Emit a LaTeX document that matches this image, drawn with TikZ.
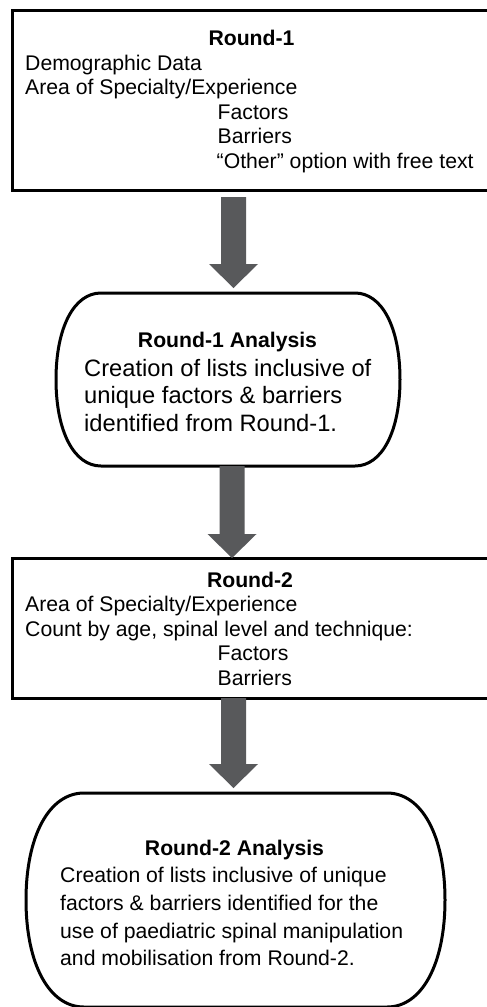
\documentclass[tikz,border=0pt]{standalone}
\usepackage{fontspec}
\setmainfont{Liberation Sans}
\usetikzlibrary{calc}
\definecolor{arrowgray}{RGB}{88,89,91}
\tikzset{
  boxnode/.style={draw=black, line width=3pt, rectangle, inner sep=0pt, anchor=north west},
  termline/.style={draw=black, line width=3pt, line join=round},
  arrowfill/.style={fill=arrowgray},
  ttl/.style={inner sep=0pt, anchor=base, font=\fontsize{21.2}{24.6}\selectfont\bfseries},
  bodytxt/.style={inner sep=0pt, anchor=base west, font=\fontsize{21.2}{24.6}\selectfont},
  bodytxtA/.style={inner sep=0pt, anchor=base west, font=\fontsize{23.7}{27.5}\selectfont},
}
\newcommand{\blockarrow}[2]{%
  \fill[arrowfill] let \p1=(#1), \p2=(#2) in
    (\x1-12.5pt,\y1) -- (\x1+12.5pt,\y1) -- (\x1+12.5pt,\y2+24pt) -- (\x1+24.5pt,\y2+24pt)
    -- (\x2,\y2) -- (\x1-24.5pt,\y2+24pt) -- (\x1-12.5pt,\y2+24pt) -- cycle;}
\begin{document}
\begin{tikzpicture}[x=1pt,y=-1pt]
\clip (0,0) rectangle (487,1007);
\fill[white] (0,0) rectangle (487,1007);

% Box 1
\node[boxnode, minimum width=485pt, minimum height=180.5pt] (b1) at (10.5,8.5) {};
\node[ttl] (b1t) at (251.5,45.3) {Round-1};
\node[bodytxt] (b1l1) at (25,70) {Demographic Data};
\node[bodytxt] (b1l2) at (25,94.6) {Area of Specialty/Experience};
\node[bodytxt] (b1l3) at (217.5,119.2) {Factors};
\node[bodytxt] (b1l4) at (217.5,143.8) {Barriers};
\node[bodytxt] (b1l5) at (216.5,168.4) {“Other” option with free text};

% Shape 1 (Round-1 Analysis)
\draw[termline] (101,293) -- (355,293) .. controls (382,293) and (400,327.6) .. (400,379.5)
  .. controls (400,431.4) and (382,466) .. (355,466) -- (101,466)
  .. controls (74,466) and (56,431.4) .. (56,379.5)
  .. controls (56,327.6) and (74,293) .. cycle;
\coordinate (s1top) at (233.5,293);
\coordinate (s1bot) at (232,466);
\node[ttl] (s1t) at (227.5,347) {Round-1 Analysis};
\node[bodytxtA] (s1l1) at (84,376) {Creation of lists inclusive of};
\node[bodytxtA] (s1l2) at (84,403.6) {unique factors \& barriers};
\node[bodytxtA] (s1l3) at (84,431.2) {identified from Round-1.};

% Box 2
\node[boxnode, minimum width=485pt, minimum height=140pt] (b2) at (11,557) {};
\node[ttl] (b2t) at (250,587) {Round-2};
\node[bodytxt] (b2l1) at (25,611.5) {Area of Specialty/Experience};
\node[bodytxt] (b2l2) at (25,636) {Count by age, spinal level and technique:};
\node[bodytxt] (b2l3) at (217.5,660.5) {Factors};
\node[bodytxt] (b2l4) at (217.5,685) {Barriers};

% Shape 2 (Round-2 Analysis)
\draw[termline] (84,793) -- (387,793) .. controls (421.8,793) and (445,835.8) .. (445,900)
  .. controls (445,964.2) and (421.8,1007) .. (387,1007) -- (84,1007)
  .. controls (49.2,1007) and (26,964.2) .. (26,900)
  .. controls (26,835.8) and (49.2,793) .. cycle;
\coordinate (s2top) at (233.5,793);
\node[ttl] (s2t) at (234.5,855) {Round-2 Analysis};
\node[bodytxt] (s2l1) at (60,882.7) {Creation of lists inclusive of unique};
\node[bodytxt] (s2l2) at (60,910.4) {factors \& barriers identified for the};
\node[bodytxt] (s2l3) at (60,938.1) {use of paediatric spinal manipulation};
\node[bodytxt] (s2l4) at (60,965.8) {and mobilisation from Round-2.};

% Arrows
\coordinate (a1s) at (233.5,197);
\coordinate (a1e) at (233.5,288);
\coordinate (a2s) at (232,466);
\coordinate (a2e) at (232,558);
\coordinate (a3s) at (233.5,698);
\coordinate (a3e) at (233.5,788);
\blockarrow{a1s}{a1e}
\blockarrow{a2s}{a2e}
\blockarrow{a3s}{a3e}
\end{tikzpicture}
\end{document}
